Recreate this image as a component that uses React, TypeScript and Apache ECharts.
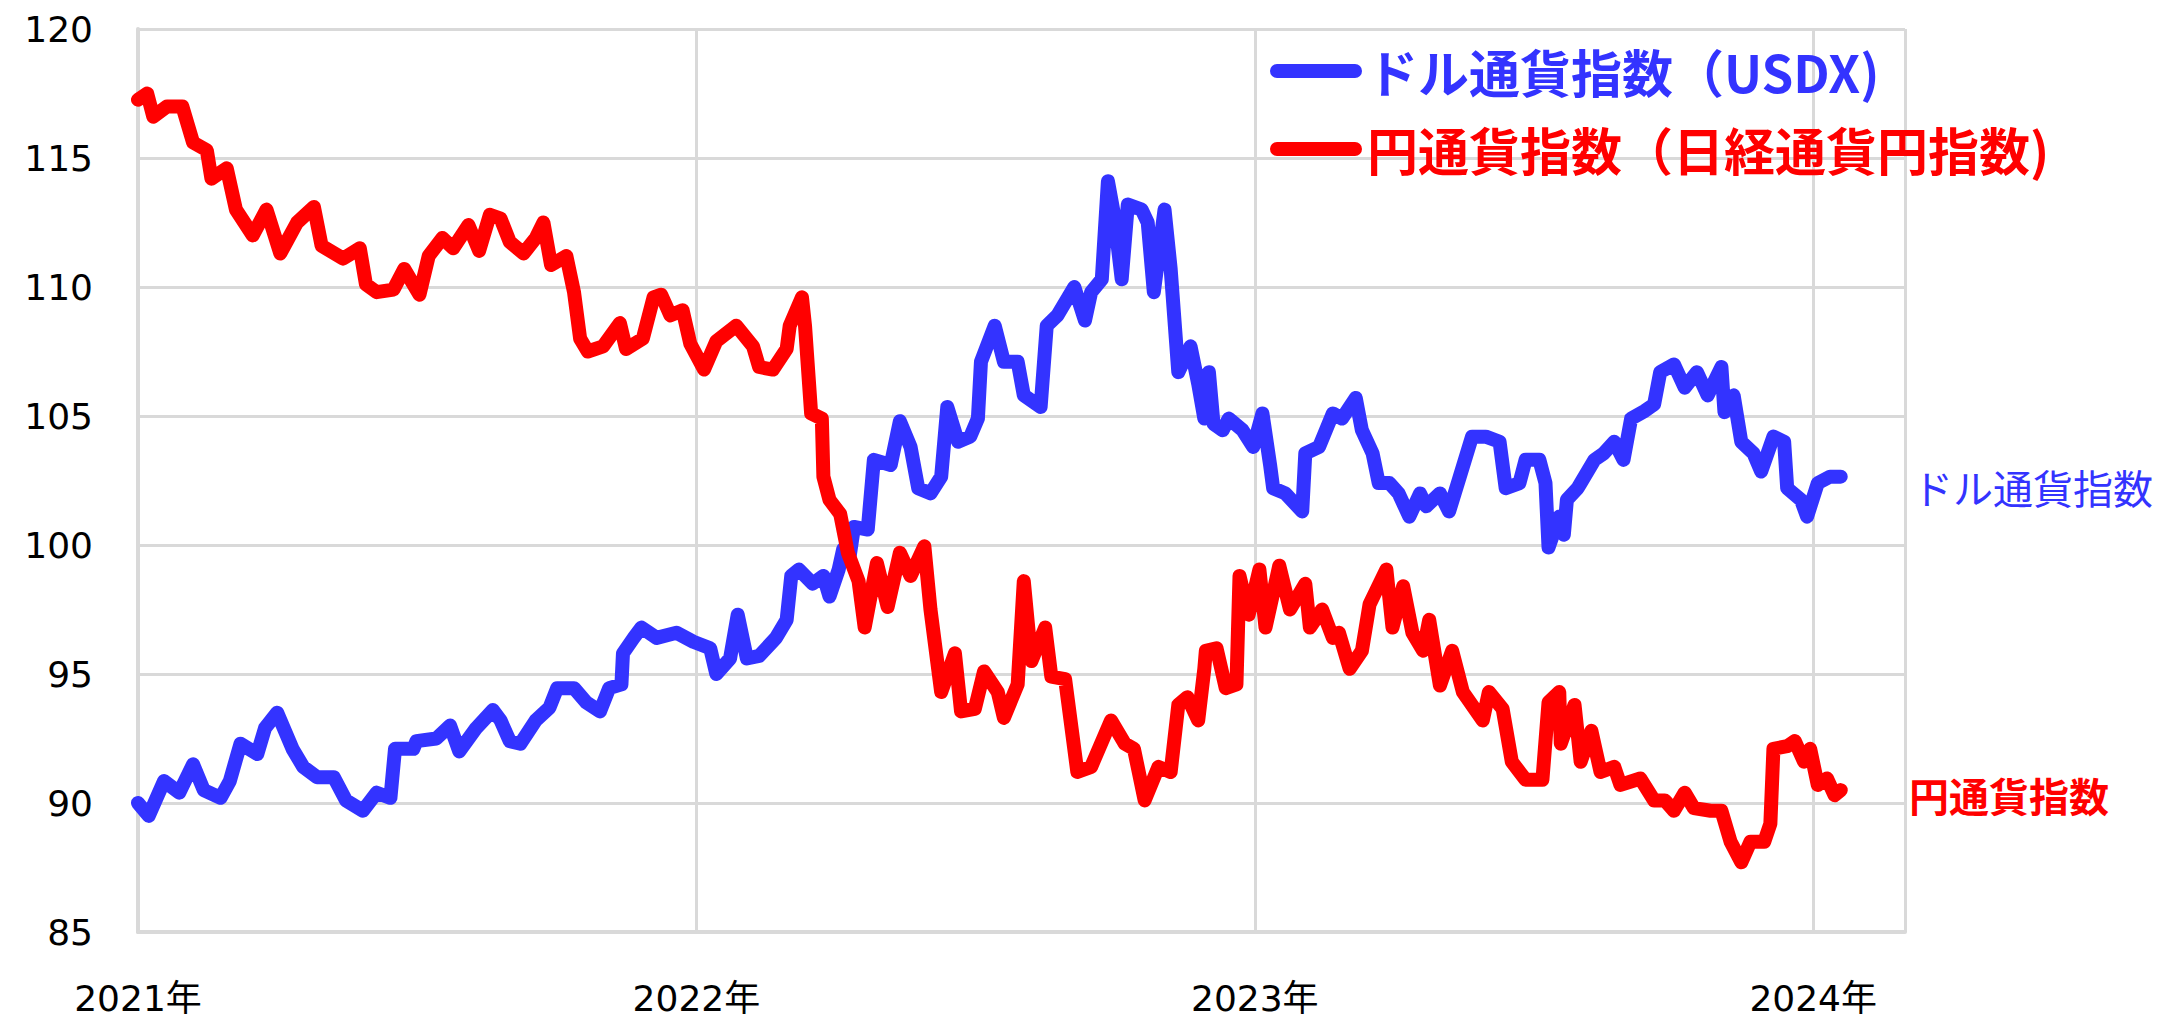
import React, { useEffect, useRef } from "react";
import * as echarts from "echarts";

// x = days since 2021-01-01
const usdxDays = [
  0, 7, 17, 27, 36, 43, 54, 60, 67, 78, 83, 91, 101, 108, 117, 128, 136, 147, 156, 165, 168, 180, 182, 195, 204, 210, 221, 232,
  237, 243, 250, 260, 269, 274, 285, 293, 302, 308, 316, 317, 324, 329, 339, 352, 363, 374, 378, 387, 392, 398, 406, 417, 424, 427, 432, 441, 448, 452, 458, 461, 465,
  468, 477, 481, 492, 498, 505, 510, 518, 525, 529, 536, 544, 549, 551, 560, 566, 575, 579, 590, 594, 601, 612, 619, 623, 630, 634, 638, 643, 647, 656, 660, 664, 671, 675, 680, 688, 693, 697,
  700, 703, 709, 713, 722, 729, 735, 740, 742, 750, 761, 763, 772, 781, 787, 796, 800, 807, 811, 818, 824, 831, 838, 842, 851, 857, 864, 872, 881, 890, 894, 903, 907, 916, 920, 922, 929,
  932, 934, 941, 943, 952, 958, 965, 971, 976, 985, 991, 995, 1004, 1011, 1019, 1026, 1035, 1037, 1043, 1048, 1056, 1061, 1069, 1076, 1078, 1087, 1091, 1098, 1106, 1113,
];
const usdxValues = [
  90.0, 89.5, 90.85, 90.4, 91.5, 90.5, 90.2, 90.85, 92.3, 91.9, 92.9, 93.5, 92.1, 91.4, 91.0, 91.0, 90.1, 89.7, 90.4, 90.2, 92.1, 92.1, 92.4, 92.5, 93.0, 92.0, 92.9, 93.6,
  93.2, 92.4, 92.3, 93.2, 93.7, 94.45, 94.45, 93.9, 93.55, 94.45, 94.6, 95.8, 96.4, 96.8, 96.4, 96.6, 96.25, 96.0, 95.0, 95.6, 97.3, 95.6, 95.7, 96.4, 97.1, 98.8, 99.05, 98.5, 98.8, 98.0, 99.05, 99.85, 99.5,
  100.7, 100.6, 103.3, 103.1, 104.8, 103.8, 102.2, 102.0, 102.65, 105.35, 104.0, 104.2, 104.9, 107.1, 108.5, 107.1, 107.1, 105.8, 105.35, 108.5, 108.9, 110.0, 108.7, 109.8, 110.3, 114.1, 112.8, 110.3, 113.2, 113.0, 112.5, 109.8, 113.0, 110.7, 106.7, 107.7, 106.25, 104.9,
  106.7, 104.7, 104.45, 104.9, 104.45, 103.8, 105.1, 103.1, 102.2, 102.0, 101.3, 103.55, 103.8, 105.1, 104.9, 105.7, 104.45, 103.55, 102.4, 102.4, 102.0, 101.1, 102.0, 101.5, 102.0, 101.3, 102.65, 104.2, 104.2, 104.0, 102.2, 102.4, 103.3, 103.3, 102.4, 99.9, 101.1,
  100.4, 101.75, 102.2, 102.4, 103.3, 103.55, 104.0, 103.3, 104.9, 105.2, 105.45, 106.7, 107.0, 106.1, 106.7, 105.8, 106.9, 105.15, 105.8, 104.0, 103.55, 102.85, 104.2, 104.0, 102.2, 101.75, 101.1, 102.4, 102.65, 102.65,
];

const yenDays = [
  0, 6, 10, 19, 29, 36, 45, 48, 58, 64, 75, 84, 93, 104, 115, 120, 134, 145, 149, 156, 167, 174, 184, 190, 199, 206, 216, 223, 230,
  237, 243, 252, 260, 265, 270, 280, 285, 289, 294, 304, 315, 319, 330, 337, 342, 348, 356, 361, 370, 378, 391, 402, 406, 415, 424, 426, 434, 436, 440, 447, 448, 452, 459, 464,
  471, 475, 483, 490, 498, 505, 514, 518, 525, 534, 538, 547, 553, 562, 566, 575, 579, 584, 593, 597, 606, 614, 623, 636, 645, 651, 658, 667, 675, 680, 686, 693, 697,
  698, 705, 711, 718, 720, 726, 733, 737, 746, 753, 763, 766, 774, 781, 785, 792, 800, 805, 816, 820, 827, 833, 840, 844, 851, 859, 866, 879, 883, 892, 898, 907, 918, 922, 929,
  930, 939, 943, 950, 956, 965, 969, 982, 991, 998, 1004, 1011, 1017, 1028, 1035, 1041, 1048, 1054, 1063, 1067, 1069, 1078, 1083, 1089, 1093, 1098, 1104, 1109, 1113,
];
const yenValues = [
  117.26, 117.5, 116.6, 117.0, 117.0, 115.6, 115.3, 114.2, 114.6, 113.0, 112.0, 113.0, 111.3, 112.5, 113.1, 111.6, 111.1, 111.5, 110.1, 109.8, 109.9, 110.7, 109.7, 111.2, 111.9, 111.5, 112.4, 111.4, 112.8,
  112.65, 111.75, 111.3, 111.9, 112.5, 110.85, 111.2, 109.8, 108.0, 107.5, 107.7, 108.6, 107.6, 108.0, 109.6, 109.7, 108.9, 109.1, 107.8, 106.8, 107.9, 108.5, 107.7, 106.9, 106.8, 107.6, 108.5, 109.6, 108.5, 105.1, 104.9, 102.65, 101.75, 101.2, 99.7,
  98.6, 96.8, 99.3, 97.6, 99.7, 98.8, 99.95, 97.5, 94.3, 95.8, 93.55, 93.65, 95.1, 94.3, 93.3, 94.6, 98.6, 95.5, 96.8, 94.9, 94.8, 91.2, 91.4, 93.2, 92.3, 92.1, 90.1, 91.4, 91.2, 93.8, 94.1, 93.2, 95.2,
  95.9, 96.0, 94.45, 94.6, 98.8, 97.3, 99.05, 96.8, 99.2, 97.5, 98.5, 96.8, 97.5, 96.4, 96.6, 95.2, 95.9, 97.7, 99.05, 96.8, 98.4, 96.6, 95.9, 97.1, 94.55, 95.9, 94.3, 93.2, 94.3, 93.65, 91.6, 90.9, 90.9, 93.9, 94.3,
  92.3, 93.8, 91.6, 92.8, 91.2, 91.4, 90.7, 90.95, 90.1, 90.1, 89.7, 90.4, 89.8, 89.7, 89.7, 88.5, 87.7, 88.5, 88.5, 89.2, 92.1, 92.2, 92.4, 91.6, 92.1, 90.7, 90.95, 90.3, 90.5,
];

const yearLabels = ["2021年", "2022年", "2023年", "2024年"];
const seriesNames = ["ドル通貨指数（USDX)", "円通貨指数（日経通貨円指数)"];
const endNames = ["ドル通貨指数", "円通貨指数"];

const BLUE = "#3333ff";
const RED = "#ff0000";
const GRID = "#d9d9d9";

export default function App() {
  const ref = useRef<HTMLDivElement>(null);

  useEffect(() => {
    if (!ref.current) return;
    const chart = echarts.init(ref.current, null, { renderer: "svg" });
    const usdx = usdxDays.map((d, i) => [d, usdxValues[i]]);
    const yen = yenDays.map((d, i) => [d, yenValues[i]]);
    const axisFont = "'DejaVu Sans', 'Noto Sans CJK JP', sans-serif";
    const cjkFont = "'Noto Sans CJK JP', sans-serif";

    chart.setOption({
      animation: false,
      backgroundColor: "#ffffff",
      grid: { left: 138, right: 264, top: 29, bottom: 89, containLabel: false },
      legend: {
        orient: "vertical",
        left: 1270,
        top: 45,
        padding: 0,
        itemGap: 26,
        itemWidth: 92,
        itemHeight: 14,
        icon: "path://M7 0H85A7 7 0 0 1 85 14H7A7 7 0 0 1 7 0Z",
        selectedMode: false,
        textStyle: { fontFamily: cjkFont, fontSize: 51, fontWeight: "bold", lineHeight: 52 },
        data: [
          { name: seriesNames[0], textStyle: { color: BLUE } },
          { name: seriesNames[1], textStyle: { color: RED } },
        ],
      },
      xAxis: {
        type: "value",
        min: 0,
        max: 1155,
        interval: 365,
        axisLine: { show: true, lineStyle: { color: GRID, width: 4 } },
        axisTick: { show: false },
        splitLine: { show: true, lineStyle: { color: GRID, width: 3 } },
        axisLabel: {
          margin: 48,
          color: "#000",
          fontFamily: axisFont,
          fontSize: 36,
          formatter: (v: number) => yearLabels[Math.round(v / 365)] ?? "",
        },
      },
      yAxis: {
        type: "value",
        min: 85,
        max: 120,
        interval: 5,
        axisLine: { show: true, lineStyle: { color: GRID, width: 4 } },
        axisTick: { show: false },
        splitLine: { show: true, lineStyle: { color: GRID, width: 3 } },
        axisLabel: { margin: 45, color: "#000", fontFamily: axisFont, fontSize: 36 },
      },
      graphic: [
        {
          type: "text",
          left: 1913,
          top: 467,
          style: { text: endNames[0], fill: BLUE, font: `normal 40px ${cjkFont}` },
        },
        {
          type: "text",
          left: 1909,
          top: 775,
          style: { text: endNames[1], fill: RED, font: `bold 40px ${cjkFont}` },
        },
      ],
      series: [
        {
          name: seriesNames[0],
          type: "line",
          data: usdx,
          showSymbol: false,
          symbol: "none",
          color: BLUE,
          lineStyle: { color: BLUE, width: 14, cap: "round", join: "round" },
        },
        {
          name: seriesNames[1],
          type: "line",
          data: yen,
          showSymbol: false,
          symbol: "none",
          color: RED,
          lineStyle: { color: RED, width: 14, cap: "round", join: "round" },
        },
      ],
    });
    return () => chart.dispose();
  }, []);

  return (
    <div
      ref={ref}
      style={{ position: "fixed", left: 0, top: 0, width: 2169, height: 1021, background: "#fff" }}
    />
  );
}
